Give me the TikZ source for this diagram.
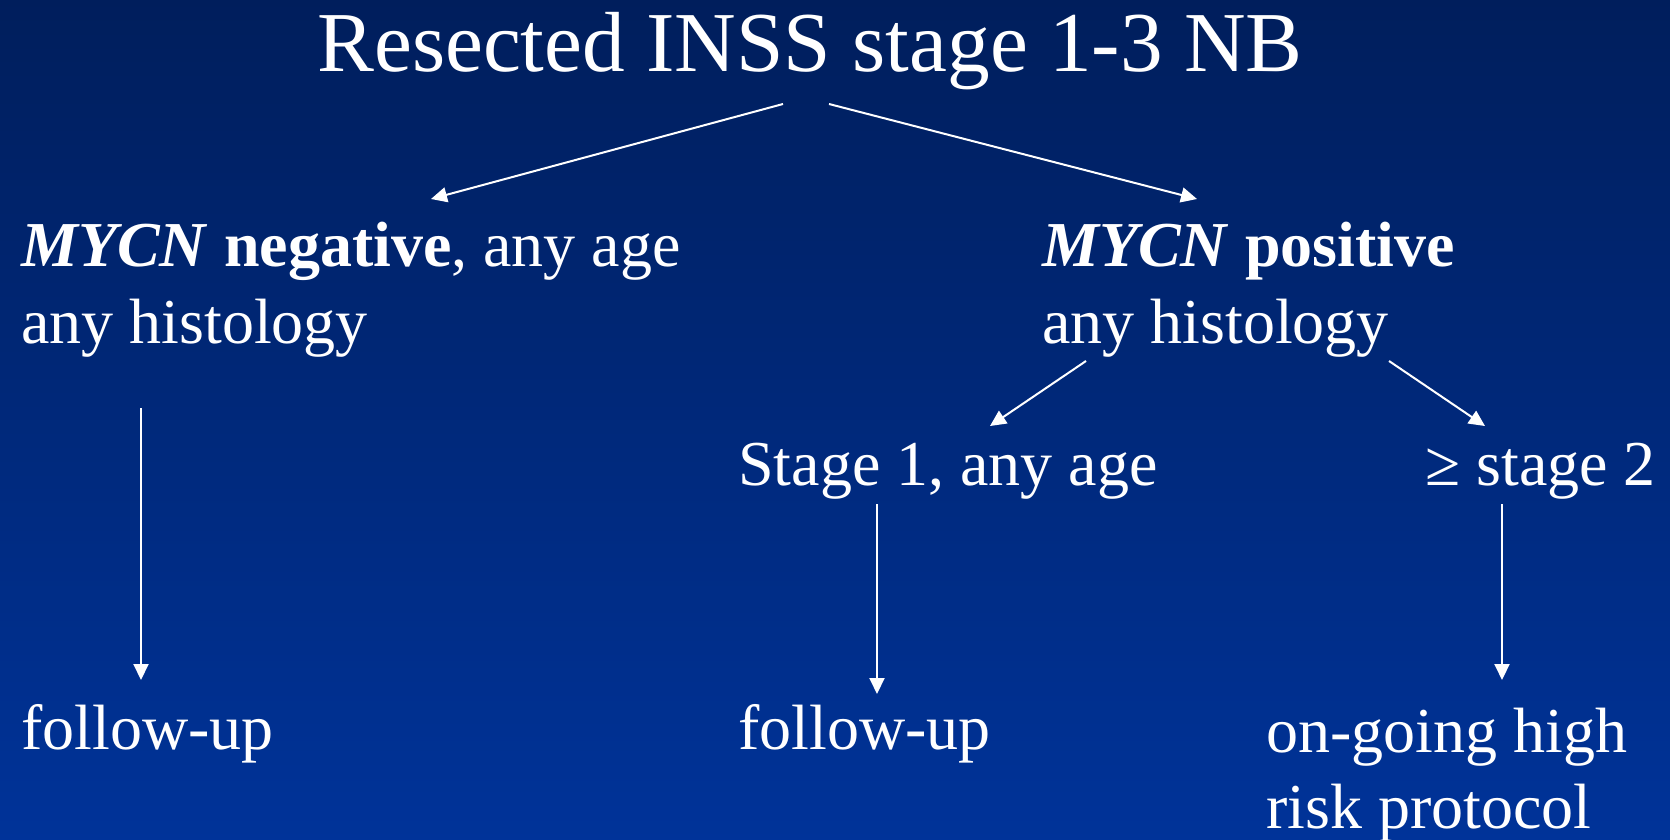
\documentclass[tikz,border=0pt]{standalone}
\usepackage{fontspec}
\setmainfont{Liberation Serif}
\usetikzlibrary{arrows.meta}
\definecolor{bgtop}{RGB}{0,30,92}
\definecolor{bgbot}{RGB}{0,51,153}
\begin{document}
\begin{tikzpicture}[x=1pt,y=-1pt,
  txt/.style={text=white,inner sep=0pt,anchor=base west,font=\fontsize{64}{70}\selectfont},
  ttl/.style={text=white,inner sep=0pt,anchor=base,font=\fontsize{85.3}{90}\selectfont},
  arr/.style={draw=white,line width=2pt,-{Triangle[length=16pt,width=15pt]}}]
\shade[top color=bgtop,bottom color=bgbot] (0,0) rectangle (1670,840);
\useasboundingbox (0,0) rectangle (1670,840);
% texts
\node[ttl] (title) at (810,72) {Resected INSS stage 1-3 NB};
\node[txt] (neg1) at (21,266) {\textbf{\textit{MYCN}} \textbf{negative}, any age};
\node[txt] (neg2) at (21,343) {any histology};
\node[txt] (pos1) at (1042,266) {\textbf{\textit{MYCN}} \textbf{positive}};
\node[txt] (pos2) at (1042,343) {any histology};
\node[txt] (st1) at (738,485) {Stage 1, any age};
\node[txt] (st2) at (1425,485) {≥ stage 2};
\node[txt] (fu1) at (21,749) {follow-up};
\node[txt] (fu2) at (738,749) {follow-up};
\node[txt] (hr1) at (1266,752) {on-going high};
\node[txt] (hr2) at (1266,828) {risk protocol};
% connector end points
\coordinate (tA) at (783,104);
\coordinate (tB) at (829,104);
\coordinate (nA) at (431,199);
\coordinate (pA) at (1197,199);
\coordinate (nB) at (141,408);
\coordinate (fA) at (141,680);
\coordinate (pB) at (1086,361);
\coordinate (pC) at (1389,361);
\coordinate (sA) at (990,426);
\coordinate (sB) at (1485,426);
\coordinate (sC) at (877,504);
\coordinate (fB) at (877,694);
\coordinate (sD) at (1502,504);
\coordinate (hA) at (1502,680);
% connectors
\draw[arr] (tA) -- (nA);
\draw[arr] (tB) -- (pA);
\draw[arr] (nB) -- (fA);
\draw[arr] (pB) -- (sA);
\draw[arr] (pC) -- (sB);
\draw[arr] (sC) -- (fB);
\draw[arr] (sD) -- (hA);
\end{tikzpicture}
\end{document}
